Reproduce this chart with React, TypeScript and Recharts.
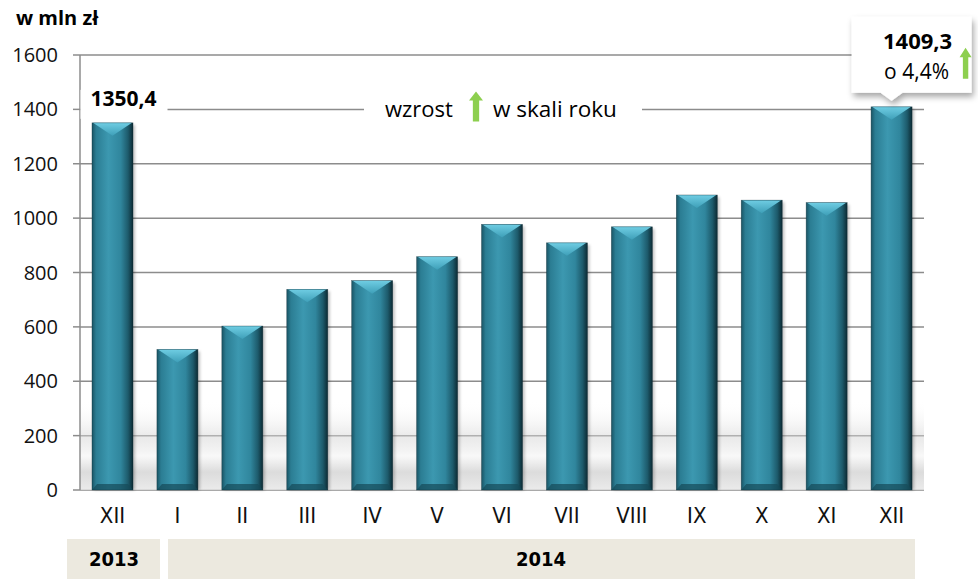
import React from "react";
import {
  BarChart,
  Bar,
  XAxis,
  YAxis,
  CartesianGrid,
  LabelList,
  ReferenceLine,
  ReferenceArea,
} from "recharts";

const months = ["XII", "I", "II", "III", "IV", "V", "VI", "VII", "VIII", "IX", "X", "XI", "XII"];
const values = [1350.4, 517, 603, 738, 770, 858, 977, 909, 968, 1085, 1066, 1057, 1409.3];
const yTicks = [0, 200, 400, 600, 800, 1000, 1200, 1400, 1600];
const years = ["2013", "2014"];
const firstLabel = "1350,4";
const lastLabel = "1409,3";
const growthLabel = "o 4,4%";

const data = months.map((m, i) => ({ month: m, value: values[i] }));

const FONT = "'Open Sans', 'Liberation Sans', sans-serif";
const NARROW = "'Liberation Sans Narrow', 'DejaVu Sans Condensed', sans-serif";
const GREEN = "#8dcf4f";

function UpArrow({ x, y, w, h }: { x: number; y: number; w: number; h: number }) {
  const shaft = w * 0.45;
  const head = h * 0.3;
  const cx = x + w / 2;
  const pts = [
    [cx, y],
    [x + w, y + head],
    [cx + shaft / 2, y + head],
    [cx + shaft / 2, y + h],
    [cx - shaft / 2, y + h],
    [cx - shaft / 2, y + head],
    [x, y + head],
  ]
    .map((p) => p.join(","))
    .join(" ");
  return <polygon points={pts} fill={GREEN} />;
}

function BarShape(props: any) {
  const { x, y, width: w, height: h } = props;
  if (!h || h <= 0) return null;
  const b = Math.min(10, w / 4);
  return (
    <g>
      <rect x={x + 2} y={y + 2} width={w} height={h - 2} fill="#000" opacity={0.25} filter="url(#barBlur)" />
      <rect x={x} y={y} width={w} height={h} fill="url(#barGrad)" />
      <polygon
        points={`${x + 1},${y} ${x + w - 1},${y} ${x + w - b},${y + 6} ${x + w / 2},${y + 13} ${x + b},${y + 6}`}
        fill="url(#topGrad)"
      />
      <polygon
        points={`${x},${y + h} ${x + w},${y + h} ${x + w - 5},${y + h - 6} ${x + 5},${y + h - 6}`}
        fill="#164a59"
        opacity={0.7}
      />
      <rect x={x} y={y} width={w} height={h} fill="none" stroke="#0e2e38" strokeWidth={0.6} opacity={0.6} />
    </g>
  );
}

function ValueLabel(props: any) {
  const { x, y, width: w, index, value } = props;
  const cx = x + w / 2;
  const isFirst = index === 0 || (index === undefined && value === values[0]);
  const isLast = index === values.length - 1 || (index === undefined && value === values[values.length - 1]);
  if (isFirst) {
    return (
      <g>
        <rect x={cx - 32} y={y - 33} width={87} height={29} fill="#fff" />
        <text x={cx + 11} y={y - 17} textAnchor="middle" fontFamily={FONT} fontSize={21} fontWeight={700} fill="#000">
          {firstLabel}
        </text>
      </g>
    );
  }
  if (isLast) {
    const top = y - 90;
    const bottom = y - 14;
    const left = cx - 40;
    const right = cx + 80;
    const path = `M${left},${top} H${right} V${bottom} H${cx + 11} L${cx},${y - 6} L${cx - 11},${bottom} H${left} Z`;
    return (
      <g>
        <path d={path} fill="#fff" filter="url(#boxShadow)" />
        <text x={cx + 26} y={y - 58} textAnchor="middle" fontFamily={FONT} fontSize={22} fontWeight={700} fill="#000">
          {lastLabel}
        </text>
        <text x={cx + 25} y={y - 28} textAnchor="middle" fontFamily={FONT} fontSize={21} fill="#000">
          {growthLabel}
        </text>
        <UpArrow x={cx + 68} y={y - 59} w={12} h={31} />
      </g>
    );
  }
  return null;
}

function MidLabel(props: any) {
  const vb = props.viewBox || {};
  const cx = vb.x + vb.width / 2;
  const cy = vb.y;
  return (
    <g>
      <rect x={cx - 138} y={cy - 16} width={278} height={30} fill="#fff" />
      <text x={cx - 117} y={cy + 8} fontFamily={FONT} fontSize={22} fill="#000">
        wzrost
      </text>
      <UpArrow x={cx - 33} y={cy - 18} w={14} h={30} />
      <text x={cx - 9} y={cy + 8} fontFamily={FONT} fontSize={22.5} fill="#000">
        w skali roku
      </text>
    </g>
  );
}

export default function App() {
  return (
    <div style={{ position: "relative", width: 978, height: 579, background: "#fff" }}>
      <style>{"body{margin:0;}"}</style>
      <BarChart width={978} height={579} data={data} margin={{ top: 55, right: 54, left: 0, bottom: 59 }}>
        <defs>
          <linearGradient id="barGrad" x1="0" y1="0" x2="1" y2="0">
            <stop offset="0%" stopColor="#1a5464" />
            <stop offset="10%" stopColor="#2b7d93" />
            <stop offset="40%" stopColor="#3c98b0" />
            <stop offset="70%" stopColor="#30869d" />
            <stop offset="88%" stopColor="#1d5a6b" />
            <stop offset="100%" stopColor="#0c2a33" />
          </linearGradient>
          <linearGradient id="topGrad" x1="0" y1="0" x2="0" y2="1">
            <stop offset="0%" stopColor="#6fcde3" />
            <stop offset="100%" stopColor="#3e9fb8" />
          </linearGradient>
          <linearGradient id="floorGrad" x1="0" y1="0" x2="0" y2="1">
            <stop offset="0%" stopColor="#ffffff" stopOpacity={0} />
            <stop offset="40%" stopColor="#d4d4d4" stopOpacity={0.5} />
            <stop offset="62%" stopColor="#f6f6f6" stopOpacity={0.7} />
            <stop offset="80%" stopColor="#d0d0d0" stopOpacity={0.75} />
            <stop offset="100%" stopColor="#e6e6e6" stopOpacity={0.8} />
          </linearGradient>
          <filter id="barBlur" x="-20%" y="-5%" width="140%" height="110%">
            <feGaussianBlur stdDeviation="1.5" />
          </filter>
          <filter id="boxShadow" x="-20%" y="-20%" width="140%" height="150%">
            <feDropShadow dx="2" dy="4" stdDeviation="3" floodColor="#000" floodOpacity="0.35" />
          </filter>
        </defs>
        <ReferenceArea y1={0} y2={330} fill="url(#floorGrad)" fillOpacity={1} stroke="none" />
        <CartesianGrid vertical={false} stroke="#8c8c8c" strokeWidth={1.5} />
        <XAxis
          dataKey="month"
          height={30}
          axisLine={false}
          tickLine={false}
          tickMargin={11}
          interval={0}
          tick={{ fill: "#111", fontSize: 22, fontFamily: NARROW }}
        />
        <YAxis
          width={80}
          domain={[0, 1600]}
          ticks={yTicks}
          interval={0}
          axisLine={{ stroke: "#8c8c8c", strokeWidth: 1.5 }}
          tickLine={{ stroke: "#8c8c8c", strokeWidth: 1.5 }}
          tickSize={7}
          tickMargin={15}
          tick={{ fill: "#111", fontSize: 20, fontFamily: FONT }}
        />
        <ReferenceLine y={1400} stroke="none" label={<MidLabel />} />
        <Bar dataKey="value" barSize={41} shape={<BarShape />} isAnimationActive={false}>
          <LabelList dataKey="value" content={<ValueLabel />} />
        </Bar>
      </BarChart>
      <svg width={978} height={579} style={{ position: "absolute", left: 0, top: 0, pointerEvents: "none" }}>
        <text x={16} y={25} fontFamily={FONT} fontSize={20} fontWeight={700} fill="#000">
          w mln zł
        </text>
        <rect x={67} y={539} width={93} height={40} fill="#ece9df" />
        <text x={114} y={566} textAnchor="middle" fontFamily={NARROW} fontSize={20} fontWeight={700} fill="#000">
          {years[0]}
        </text>
        <rect x={168} y={539} width={747} height={40} fill="#ece9df" />
        <text x={541} y={566} textAnchor="middle" fontFamily={NARROW} fontSize={20} fontWeight={700} fill="#000">
          {years[1]}
        </text>
      </svg>
    </div>
  );
}
